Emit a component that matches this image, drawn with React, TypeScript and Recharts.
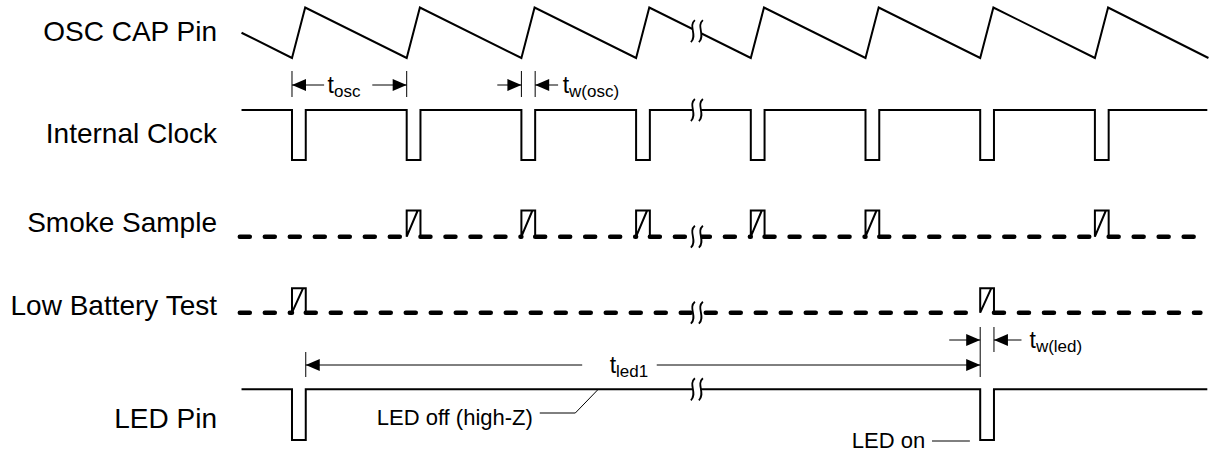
import React from 'react';
import { ComposedChart, Line, Scatter, XAxis, YAxis } from 'recharts';

// time in clock periods, 0 = falling edge of the first clock pulse
const CLOCK_PULSES = [0, 1, 2, 3, 4, 5, 6, 7];
const SMOKE_PULSES = [1, 2, 3, 4, 5, 7];
const BATTERY_PULSES = [0, 6];
const LED_PULSES = [0, 6];
const PULSE_WIDTH = 0.12;
const START_T = -0.44;
const END_T = 7.98;
const DASH_START_T = -0.455;
const DASH_END_T = 7.92;
const BREAK_T = 3.53;

const OSC_TIMES = [-0.44, 0, 0.115, 1, 1.115, 2, 2.115, 3, 3.115, 4, 4.115, 5, 5.115, 6, 6.115, 7, 7.115, 7.99];
const OSC_LEVELS = [0.5, 0, 1, 0, 1, 0, 1, 0, 1, 0, 1, 0, 1, 0, 1, 0, 1, 0];

const LANE_NAMES = ['OSC CAP Pin', 'Internal Clock', 'Smoke Sample', 'Low Battery Test', 'LED Pin'];
const LANE_LABEL_Y = [8.41, 6.38, 4.6, 2.94, 0.68];

// vertical layout of each lane (y units, bottom = 0)
const OSC = { lo: 7.88, hi: 8.89 };
const CLOCK = { lo: 5.84, hi: 6.84 };
const SMOKE = { lo: 4.306, hi: 4.83 };
const BATTERY = { lo: 2.786, hi: 3.274 };
const LED = { lo: 0.24, hi: 1.254 };

// dimension lines: [from, to, y]
const DIM_SEGMENTS = [
  [0, 0.28, 7.34], [0.7, 1, 7.34],
  [1.79, 2, 7.34], [2.12, 2.32, 7.34],
  [0.12, 2.53, 1.74], [3.18, 6, 1.74],
  [5.73, 6, 2.24], [6.12, 6.36, 2.24],
];
// extension ticks: [t, y1, y2]
const DIM_TICKS = [
  [0, 7.1, 7.62], [1, 7.1, 7.62], [2, 7.1, 7.62], [2.12, 7.1, 7.62],
  [0.12, 1.5, 2.0], [6, 1.5, 2.5], [6.12, 2.0, 2.5],
];
const ARROW_TIPS = [
  { t: 0, y: 7.34, dir: 'left' }, { t: 1, y: 7.34, dir: 'right' },
  { t: 2, y: 7.34, dir: 'right' }, { t: 2.12, y: 7.34, dir: 'left' },
  { t: 0.12, y: 1.74, dir: 'left' }, { t: 6, y: 1.74, dir: 'right' },
  { t: 6, y: 2.24, dir: 'right' }, { t: 6.12, y: 2.24, dir: 'left' },
];
// leader lines
const LEADERS = [
  [[2.16, 0.78], [2.47, 0.78], [2.67, 1.254]],
  [[5.58, 0.22], [5.91, 0.22]],
];
const NOTES = [
  { t: 0.31, y: 7.34, main: 't', sub: 'osc', anchor: 'start' },
  { t: 2.36, y: 7.34, main: 't', sub: 'w(osc)', anchor: 'start' },
  { t: 2.77, y: 1.74, main: 't', sub: 'led1', anchor: 'start' },
  { t: 6.43, y: 2.24, main: 't', sub: 'w(led)', anchor: 'start' },
  { t: 2.1, y: 0.7, main: 'LED off (high-Z)', sub: '', anchor: 'end' },
  { t: 5.52, y: 0.24, main: 'LED on', sub: '', anchor: 'end' },
];

const FONT = '"Liberation Sans", Arial, sans-serif';

const at = (lane: { lo: number; hi: number }, v: number) => lane.lo + (lane.hi - lane.lo) * v;

const oscData = OSC_TIMES.map((t, i) => ({ t, y: at(OSC, OSC_LEVELS[i]) }));

function squareWave(pulses: number[], lane: { lo: number; hi: number }) {
  const pts: any[] = [{ t: START_T, y: lane.hi }];
  pulses.forEach((p) => {
    pts.push({ t: p, y: lane.hi }, { t: p, y: lane.lo }, { t: p + PULSE_WIDTH, y: lane.lo }, { t: p + PULSE_WIDTH, y: lane.hi });
  });
  pts.push({ t: END_T, y: lane.hi });
  return pts;
}

function dashedBase(pulses: number[], lane: { lo: number; hi: number }) {
  const pts: any[] = [];
  let from = DASH_START_T;
  pulses.forEach((p) => {
    pts.push({ t: from, y: lane.lo }, { t: p, y: lane.lo }, { t: p, y: null });
    from = p + PULSE_WIDTH;
  });
  pts.push({ t: from, y: lane.lo }, { t: DASH_END_T, y: lane.lo });
  return pts;
}

function pulseBoxes(pulses: number[], lane: { lo: number; hi: number }) {
  const pts: any[] = [];
  pulses.forEach((p) => {
    const e = p + PULSE_WIDTH;
    pts.push(
      { t: e, y: lane.lo }, { t: e, y: lane.hi }, { t: p, y: lane.hi },
      { t: p, y: lane.lo }, { t: p + PULSE_WIDTH * 0.8, y: lane.hi }, { t: e, y: null },
    );
  });
  return pts;
}

const annotationData = (() => {
  const pts: any[] = [];
  DIM_SEGMENTS.forEach(([a, b, y]) => pts.push({ t: a, y }, { t: b, y }, { t: b, y: null }));
  DIM_TICKS.forEach(([t, y1, y2]) => pts.push({ t, y: y1 }, { t, y: y2 }, { t, y: null }));
  LEADERS.forEach((l) => {
    l.forEach(([t, y]) => pts.push({ t, y }));
    pts.push({ t: l[l.length - 1][0], y: null });
  });
  return pts;
})();

function oscAt(t: number) {
  for (let i = 1; i < OSC_TIMES.length; i++) {
    if (t <= OSC_TIMES[i]) {
      const f = (t - OSC_TIMES[i - 1]) / (OSC_TIMES[i] - OSC_TIMES[i - 1]);
      return at(OSC, OSC_LEVELS[i - 1] + f * (OSC_LEVELS[i] - OSC_LEVELS[i - 1]));
    }
  }
  return OSC.lo;
}

const breakData = [
  { t: BREAK_T, y: oscAt(BREAK_T) },
  { t: BREAK_T, y: CLOCK.hi },
  { t: BREAK_T, y: SMOKE.lo },
  { t: BREAK_T, y: BATTERY.lo },
  { t: BREAK_T, y: LED.hi },
];

const BreakMark = (props: any) => {
  const { cx, cy } = props;
  const s = (ox: number) => `M${ox + 2},${cy - 11} C${ox - 5},${cy - 5} ${ox + 5},${cy + 4} ${ox - 2},${cy + 11}`;
  return (
    <g>
      <rect x={cx - 4} y={cy - 4} width={8} height={8} fill="#fff" />
      <path d={s(cx - 4)} stroke="#000" strokeWidth={1.8} fill="none" />
      <path d={s(cx + 4)} stroke="#000" strokeWidth={1.8} fill="none" />
    </g>
  );
};

const Arrowhead = (props: any) => {
  const { cx, cy, payload } = props;
  const d = payload.dir === 'left' ? 1 : -1;
  return <polygon points={`${cx},${cy} ${cx + d * 14},${cy - 6} ${cx + d * 14},${cy + 6}`} fill="#000" />;
};

const Note = (props: any) => {
  const { cx, cy, payload } = props;
  return (
    <text x={cx} y={cy} dy="0.36em" textAnchor={payload.anchor} fontFamily={FONT} fontSize={payload.sub ? 23 : 22} fill="#000">
      {payload.main}
      {payload.sub ? <tspan fontSize={17} dy={4}>{payload.sub}</tspan> : null}
    </text>
  );
};

export default function App() {
  return (
    <div style={{ position: 'absolute', left: 0, top: 0, background: '#fff' }}>
      <ComposedChart width={1212} height={452} margin={{ top: 0, right: 0, bottom: 0, left: 0 }}>
        <XAxis type="number" dataKey="t" domain={[-0.5405, 8.0209]} allowDataOverflow hide />
        <YAxis
          type="number"
          dataKey="y"
          domain={[0, 9.04]}
          ticks={LANE_LABEL_Y}
          interval={0}
          width={230}
          axisLine={false}
          tickLine={false}
          tickSize={0}
          tickMargin={13}
          tickFormatter={(v: number) => LANE_NAMES[LANE_LABEL_Y.indexOf(v)]}
          tick={{ fontFamily: FONT, fontSize: 28, fill: '#000' }}
        />
        <Line data={oscData} dataKey="y" stroke="#000" strokeWidth={2} dot={false} isAnimationActive={false} />
        <Line data={squareWave(CLOCK_PULSES, CLOCK)} dataKey="y" stroke="#000" strokeWidth={2} dot={false} isAnimationActive={false} />
        <Line data={squareWave(LED_PULSES, LED)} dataKey="y" stroke="#000" strokeWidth={2} dot={false} isAnimationActive={false} />
        <Line data={dashedBase(SMOKE_PULSES, SMOKE)} dataKey="y" stroke="#000" strokeWidth={4.5} strokeDasharray="10 15" strokeLinecap="round" dot={false} isAnimationActive={false} />
        <Line data={dashedBase(BATTERY_PULSES, BATTERY)} dataKey="y" stroke="#000" strokeWidth={4.5} strokeDasharray="10 15" strokeLinecap="round" dot={false} isAnimationActive={false} />
        <Line data={pulseBoxes(SMOKE_PULSES, SMOKE)} dataKey="y" stroke="#000" strokeWidth={2} dot={false} isAnimationActive={false} />
        <Line data={pulseBoxes(BATTERY_PULSES, BATTERY)} dataKey="y" stroke="#000" strokeWidth={2} dot={false} isAnimationActive={false} />
        <Line data={annotationData} dataKey="y" stroke="#000" strokeWidth={1} dot={false} isAnimationActive={false} />
        <Scatter data={ARROW_TIPS} dataKey="y" shape={Arrowhead} isAnimationActive={false} />
        <Scatter data={NOTES} dataKey="y" shape={Note} isAnimationActive={false} />
        <Scatter data={breakData} dataKey="y" shape={BreakMark} isAnimationActive={false} />
      </ComposedChart>
    </div>
  );
}
